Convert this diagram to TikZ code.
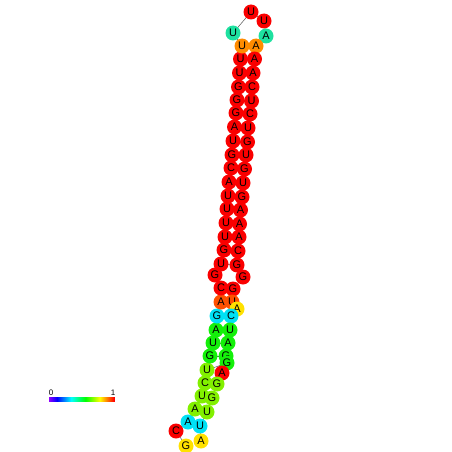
\documentclass[tikz,border=0pt]{standalone}
\usepackage{fontspec}
\setmainfont{Liberation Sans}
\pgfdeclarelayer{bg}
\pgfsetlayers{bg,main}
\definecolor{cred}{RGB}{250,0,0}
\definecolor{corr}{RGB}{255,80,0}
\definecolor{corg}{RGB}{255,140,0}
\definecolor{cyel}{RGB}{255,225,0}
\definecolor{clim}{RGB}{130,240,0}
\definecolor{cgrn}{RGB}{20,240,10}
\definecolor{cteal}{RGB}{30,225,160}
\definecolor{ccyan}{RGB}{0,225,245}
\tikzset{
  nt/.style={circle, inner sep=0pt, minimum size=15pt, font=\fontsize{11}{11}\selectfont, text=black},
  bb/.style={draw=black!65, line width=0.5pt},
  lbl/.style={font=\fontsize{8}{8}\selectfont, inner sep=0pt}
}
\newcommand\nt[5]{\node[nt, fill=#5] (n#1) at (#2,#3) {#4};}
\begin{document}
\begin{tikzpicture}[x=1pt,y=-1pt]
\useasboundingbox (0,0) rectangle (452,452);
\nt{1}{186}{446}{G}{cyel}
\nt{2}{176}{431}{C}{cred}
\nt{3}{188}{422}{A}{ccyan}
\nt{4}{195}{409}{A}{clim}
\nt{5}{202}{396}{U}{clim}
\nt{6}{205}{383}{C}{clim}
\nt{7}{207}{370}{U}{clim}
\nt{8}{210}{356}{G}{cgrn}
\nt{9}{213}{343}{U}{cgrn}
\nt{10}{216}{330}{A}{cgrn}
\nt{11}{217}{316}{G}{ccyan}
\nt{12}{221}{302}{A}{corr}
\nt{13}{221}{288}{C}{cred}
\nt{14}{215}{275}{G}{cred}
\nt{15}{221}{264}{U}{cred}
\nt{16}{224}{250}{G}{cred}
\nt{17}{225}{237}{U}{cred}
\nt{18}{226}{223}{U}{cred}
\nt{19}{227}{209}{U}{cred}
\nt{20}{228}{196}{U}{cred}
\nt{21}{229}{182}{A}{cred}
\nt{22}{231}{168}{C}{cred}
\nt{23}{232}{155}{G}{cred}
\nt{24}{233}{141}{U}{cred}
\nt{25}{234.5}{127}{A}{cred}
\nt{26}{236}{113}{G}{cred}
\nt{27}{237}{100}{G}{cred}
\nt{28}{238.5}{87}{G}{cred}
\nt{29}{239.5}{73}{U}{cred}
\nt{30}{240.5}{59}{U}{cred}
\nt{31}{242}{46}{U}{corg}
\nt{32}{233}{33}{U}{cteal}
\nt{33}{251}{12}{U}{cred}
\nt{34}{264}{21}{U}{cred}
\nt{35}{266}{36}{A}{cteal}
\nt{36}{256}{46}{A}{corg}
\nt{37}{254.5}{59}{A}{cred}
\nt{38}{253}{73}{A}{cred}
\nt{39}{252}{87}{C}{cred}
\nt{40}{251.5}{101}{U}{cred}
\nt{41}{250}{114}{C}{cred}
\nt{42}{248}{128}{U}{cred}
\nt{43}{247.5}{142}{G}{cred}
\nt{44}{246}{155}{U}{cred}
\nt{45}{244.5}{169}{G}{cred}
\nt{46}{243}{183}{U}{cred}
\nt{47}{242}{197}{G}{cred}
\nt{48}{240.5}{210}{A}{cred}
\nt{49}{239.5}{224}{A}{cred}
\nt{50}{239}{237}{A}{cred}
\nt{51}{238}{251}{C}{cred}
\nt{52}{237}{265}{G}{cred}
\nt{53}{243}{277}{G}{cred}
\nt{54}{233}{289}{G}{cred}
\nt{55}{232}{302}{U}{corr}
\nt{56}{237}{309}{A}{cyel}
\nt{57}{231}{316}{C}{ccyan}
\nt{58}{230}{330}{U}{cgrn}
\nt{59}{228}{343}{A}{cgrn}
\nt{60}{226}{356}{G}{cgrn}
\nt{61}{227}{363}{G}{cgrn}
\nt{62}{222}{373}{A}{cred}
\nt{63}{217}{384}{G}{clim}
\nt{64}{212}{398}{G}{clim}
\nt{65}{207}{412}{U}{clim}
\nt{66}{200}{426}{U}{ccyan}
\nt{67}{201}{441}{A}{cyel}
\begin{pgfonlayer}{bg}
\foreach \i [evaluate=\i as \j using int(\i+1)] in {1,...,66}
  \draw[bb] (n\i.center) -- (n\j.center);
\foreach \a/\b in {3/66,4/65,5/64,6/63,7/61,8/60,9/59,10/58,11/57,12/55,13/54,15/52,16/51,17/50,18/49,19/48,20/47,21/46,22/45,23/44,24/43,25/42,26/41,27/40,28/39,29/38,30/37,31/36}
  \draw[bb] (n\a.center) -- (n\b.center);
\end{pgfonlayer}
% colour bar
\foreach \i in {0,...,65} {
  \pgfmathsetmacro\hh{0.76*(1-\i/65)}
  \definecolor{barc}{hsb}{\hh,1,1}
  \fill[barc] (49+\i,397) rectangle ({min(50.6+\i,115)},402);
}
\node[lbl] (zero) at (51,392.5) {0};
\node[lbl] (one) at (113,392.5) {1};
\end{tikzpicture}
\end{document}
